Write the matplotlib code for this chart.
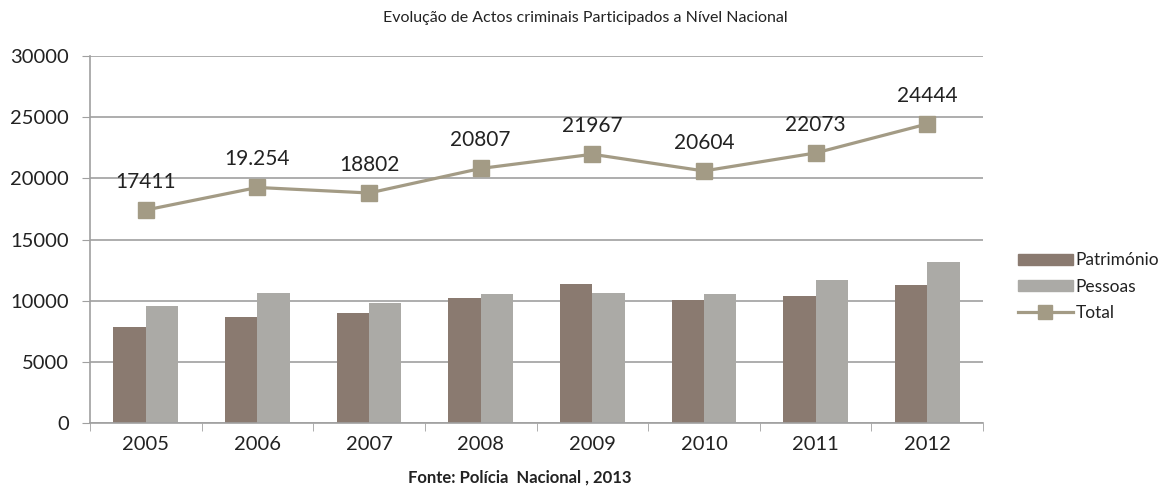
import numpy as np
import matplotlib.pyplot as plt
from matplotlib.patches import Patch
from matplotlib.lines import Line2D

plt.rcParams['font.family'] = ['Lato', 'DejaVu Sans']

years = ['2005', '2006', '2007', '2008', '2009', '2010', '2011', '2012']
patrimonio = [7820, 8640, 8970, 10250, 11390, 10030, 10385, 11290]
pessoas = [9590, 10614, 9832, 10557, 10620, 10574, 11688, 13154]
total = [17411, 19254, 18802, 20807, 21967, 20604, 22073, 24444]
total_labels = ['17411', '19.254', '18802', '20807', '21967', '20604', '22073', '24444']

c_pat = '#8a7a70'
c_pes = '#abaaa6'
c_tot = '#a39b85'
grid_c = '#a0a0a0'
txt_c = '#222222'

fig = plt.figure(figsize=(11.71, 4.86), dpi=100)
ax = fig.add_axes([0.0769, 0.1296, 0.7626, 0.7552])

x = np.arange(len(years))
w = 0.29
ax.bar(x - w / 2, patrimonio, w, color=c_pat, zorder=2)
ax.bar(x + w / 2, pessoas, w, color=c_pes, zorder=2)
ax.plot(x, total, color=c_tot, lw=2.3, marker='s', ms=12, zorder=3)

# value labels above the total line
for xi, v, lab in zip(x, total, total_labels):
    ax.annotate(lab, (xi, v), xytext=(0, 13), textcoords='offset points',
                ha='center', va='bottom', fontsize=15, color=txt_c)

ax.set_xlim(-0.5, len(years) - 0.5)
ax.set_ylim(0, 30000)
ax.set_yticks(np.arange(0, 30001, 5000))
ax.yaxis.grid(True, color=grid_c, lw=1.2, zorder=0)
ax.set_axisbelow(True)

ax.set_xticks(x)
ax.set_xticklabels(years)
ax.set_xticks(np.arange(-0.5, len(years)), minor=True)
ax.tick_params(axis='x', which='major', length=0, pad=9, labelsize=14.5, labelcolor=txt_c)
ax.tick_params(axis='x', which='minor', length=6, color=grid_c)
ax.tick_params(axis='y', length=6, color=grid_c, pad=9, labelsize=14.5, labelcolor=txt_c)

for s in ['top', 'right']:
    ax.spines[s].set_visible(False)
for s in ['left', 'bottom']:
    ax.spines[s].set_color(grid_c)
    ax.spines[s].set_linewidth(1.2)

handles = [Patch(color=c_pat), Patch(color=c_pes),
           Line2D([], [], color=c_tot, lw=2.3, marker='s', ms=10)]
fig.legend(handles, ['Património', 'Pessoas', 'Total'], loc='center left',
           bbox_to_anchor=(0.869, 0.41), frameon=False, fontsize=12.5,
           borderpad=0, borderaxespad=0,
           handlelength=3.2, handleheight=0.6, handletextpad=0.15,
           labelspacing=0.6, labelcolor=txt_c)

fig.text(0.5, 0.962, 'Evolução de Actos criminais Participados a Nível Nacional',
         ha='center', va='center', fontsize=11.5, color=txt_c)
fig.text(0.444, 0.018, 'Fonte: Polícia  Nacional , 2013', ha='center', va='center',
         fontsize=12, fontweight='bold', color=txt_c)

fig.savefig('out.png', dpi=100, facecolor='white')
